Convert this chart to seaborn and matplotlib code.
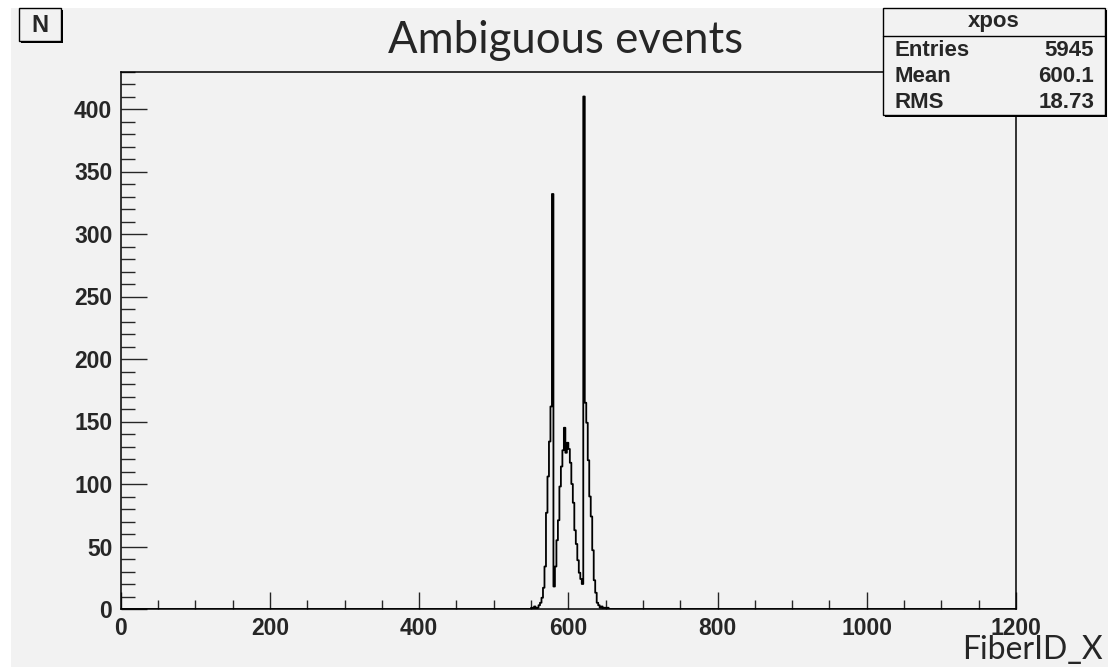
import numpy as np
import pandas as pd
import matplotlib
matplotlib.use("Agg")
import matplotlib.pyplot as plt
from matplotlib.patches import Rectangle
from matplotlib.lines import Line2D
from matplotlib.ticker import MultipleLocator
import seaborn as sns

W, H = 1108, 667  # output size in pixels

# --- data (bin width 2, left edges) ---
bin_width = 2
bin_left = list(range(550, 654, bin_width))
counts = [1, 0, 2, 0, 1, 3, 5, 9, 17, 34,
          77, 106, 134, 162, 332, 18, 34, 55, 71, 98,
          114, 127, 145, 125, 133, 128, 117, 100, 85, 63,
          52, 39, 29, 24, 20, 410, 165, 149, 119, 90,
          74, 47, 23, 13, 5, 3, 1, 2, 0, 1,
          0, 1]
x_range = (0, 1200)
y_top = 430

stats_title = "xpos"
stats_labels = ["Entries", "Mean", "RMS"]
stats_values = ["5945", "600.1", "18.73"]

title = "Ambiguous events"
x_title = "FiberID_X"
y_title = "N"

sns.set_style("ticks")
plt.rcParams["font.family"] = ["Liberation Sans", "DejaVu Sans"]

panel = "#f2f2f2"


def px_rect(x0, y0, x1, y1, **kw):
    # rectangle given in image pixel coords (y downwards)
    fig.add_artist(Rectangle((x0 / W, 1 - y1 / H), (x1 - x0) / W, (y1 - y0) / H,
                             transform=fig.transFigure, **kw))


def px_text(x, y, s, **kw):
    fig.text(x / W, 1 - y / H, s, **kw)


fig = plt.figure(figsize=(W / 100, H / 100), dpi=100, facecolor="white")
px_rect(11, 8, W, H, facecolor=panel, edgecolor="none", zorder=-10)

ax = fig.add_axes([120.7 / W, 1 - 609 / H, (1016 - 120.7) / W, (609 - 71.5) / H])
ax.set_facecolor(panel)

df = pd.DataFrame({"fiber": np.array(bin_left) + bin_width / 2, "count": counts})
sns.histplot(data=df, x="fiber", weights="count",
             binwidth=bin_width, binrange=x_range,
             element="step", fill=False, color="black", linewidth=1.3, ax=ax)

ax.set_xlim(*x_range)
ax.set_ylim(0, y_top)
ax.set_xlabel("")
ax.set_ylabel("")
for sp in ax.spines.values():
    sp.set_visible(True)
    sp.set_color("black")
    sp.set_linewidth(1.1)

ax.xaxis.set_major_locator(MultipleLocator(200))
ax.xaxis.set_minor_locator(MultipleLocator(50))
ax.yaxis.set_major_locator(MultipleLocator(50))
ax.yaxis.set_minor_locator(MultipleLocator(10))
ax.tick_params(axis="x", which="major", direction="in", length=12, width=1, pad=6)
ax.tick_params(axis="x", which="minor", direction="in", length=6.5, width=1)
ax.tick_params(axis="y", which="major", direction="in", length=19, width=1, pad=6)
ax.tick_params(axis="y", which="minor", direction="in", length=10, width=1)
ax.tick_params(top=False, right=False, which="both", labelsize=16.5)
for lab in ax.get_xticklabels() + ax.get_yticklabels():
    lab.set_fontweight("bold")

# title and axis title
px_text(566, 53, title, ha="center", va="baseline", fontsize=31.5, family="Lato")
px_text(1103, 659, x_title, ha="right", va="baseline", fontsize=23, family="Lato")

# "N" box in the corner
px_rect(21, 10, 63, 43, facecolor="black", edgecolor="none", zorder=5)
px_rect(19, 8, 61, 41, facecolor=panel, edgecolor="black", linewidth=1, zorder=6)
px_text(40, 25, y_title, ha="center", va="center", fontsize=17, weight="bold", zorder=7)

# stats box
px_rect(885, 10, 1107, 117, facecolor="black", edgecolor="none", zorder=5)
px_rect(883, 8, 1105, 115, facecolor=panel, edgecolor="black", linewidth=1, zorder=6)
fig.add_artist(Line2D([883 / W, 1105 / W], [1 - 36 / H, 1 - 36 / H],
                      transform=fig.transFigure, color="black", linewidth=1, zorder=7))
px_text(994, 22, stats_title, ha="center", va="center", fontsize=16, weight="bold", zorder=8)
for i, (lab, val) in enumerate(zip(stats_labels, stats_values)):
    y = 50 + i * 26
    px_text(894, y, lab, ha="left", va="center", fontsize=16, weight="bold", zorder=8)
    px_text(1094, y, val, ha="right", va="center", fontsize=16, weight="bold", zorder=8)

fig.savefig("out.png", dpi=100, facecolor="white")
